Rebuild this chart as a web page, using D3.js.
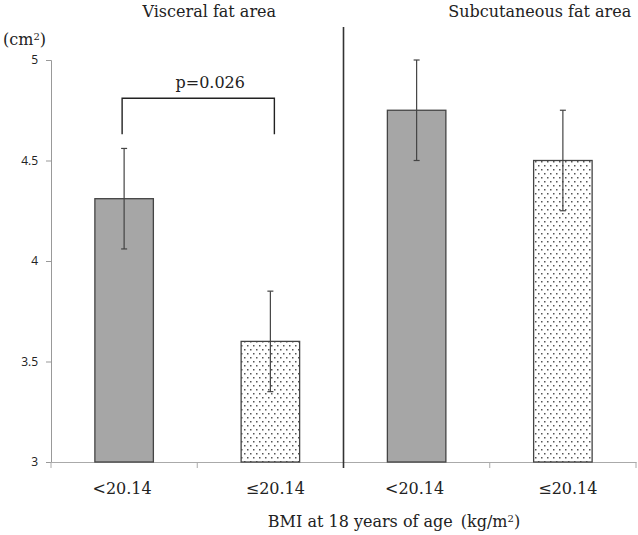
<!DOCTYPE html>
<html>
<head>
  <meta charset="utf-8">
  <title>BMI at 18 years of age</title>
  <script src="https://d3js.org/d3.v7.min.js"></script>
  <style>
    body { margin: 0; background: #fff; }
    text { font-family: "DejaVu Serif", "Liberation Serif", serif; fill: #222; }
    .ytick text { font-family: "Open Sans", "DejaVu Sans", sans-serif; font-size: 12px; }
  </style>
</head>
<body>
<svg width="638" height="535"></svg>
<script>
  // data
  var panels = ["Visceral fat area", "Subcutaneous fat area"];
  var groups = ["<20.14", "\u226420.14", "<20.14", "\u226420.14"];
  var means = [4.31, 3.60, 4.75, 4.50];
  var errors = [0.25, 0.25, 0.25, 0.25];
  var yTicks = [3, 3.5, 4, 4.5, 5];
  var pText = "p=0.026";

  var svg = d3.select("svg");
  var mLeft = 51, mRight = 636, mTop = 60, mBottom = 462;

  var x = d3.scaleBand()
      .domain(d3.range(groups.length))
      .range([mLeft, mRight])
      .paddingInner(0.6)
      .paddingOuter(0.3);
  var xb = d3.scaleBand().domain(d3.range(groups.length)).range([mLeft, mRight]);

  var y = d3.scaleLinear().domain([3, 5]).range([mBottom, mTop]);

  // dotted pattern
  var defs = svg.append("defs");
  var pat = defs.append("pattern")
      .attr("id", "dots")
      .attr("patternUnits", "userSpaceOnUse")
      .attr("width", 6).attr("height", 8);
  pat.append("rect").attr("width", 6).attr("height", 8).attr("fill", "#fff");
  pat.append("rect").attr("x", 1).attr("y", 1).attr("width", 1.5).attr("height", 1.5).attr("fill", "#555");
  pat.append("rect").attr("x", 4).attr("y", 5).attr("width", 1.5).attr("height", 1.5).attr("fill", "#555");

  // y axis
  var yAxis = svg.append("g")
      .attr("class", "ytick")
      .attr("transform", "translate(" + mLeft + ",0)")
      .call(d3.axisLeft(y).tickValues(yTicks).tickFormat(d3.format("")).tickSize(5).tickPadding(8));
  yAxis.select(".domain").attr("stroke", "#999");
  yAxis.selectAll(".tick line").attr("stroke", "#999");
  yAxis.selectAll(".tick text").attr("fill", "#222");

  // x axis
  var xAxis = svg.append("g")
      .attr("transform", "translate(0," + mBottom + ")")
      .call(d3.axisBottom(xb).tickValues([]).tickSizeOuter(0));
  xAxis.select(".domain").attr("stroke", "#aaa");
  xAxis.selectAll(".bd")
      .data(d3.range(groups.length + 1))
      .enter().append("line")
      .attr("x1", function(d) { return mLeft + d * xb.bandwidth(); })
      .attr("x2", function(d) { return mLeft + d * xb.bandwidth(); })
      .attr("y1", 0).attr("y2", 6)
      .attr("stroke", "#aaa");

  // bars
  svg.append("g").selectAll("rect")
      .data(means)
      .enter().append("rect")
      .attr("x", function(d, i) { return x(i); })
      .attr("width", x.bandwidth())
      .attr("y", function(d) { return y(d); })
      .attr("height", function(d) { return mBottom - y(d); })
      .attr("fill", function(d, i) { return i % 2 ? "url(#dots)" : "#a6a6a6"; })
      .attr("stroke", "#444")
      .attr("stroke-width", 1.3);

  // error bars
  var eb = svg.append("g").attr("stroke", "#444").attr("stroke-width", 1.2);
  means.forEach(function(m, i) {
    var cx = x(i) + x.bandwidth() / 2;
    eb.append("line").attr("x1", cx).attr("x2", cx)
        .attr("y1", y(m - errors[i])).attr("y2", y(m + errors[i]));
    [m - errors[i], m + errors[i]].forEach(function(v) {
      eb.append("line").attr("x1", cx - 3).attr("x2", cx + 3)
          .attr("y1", y(v)).attr("y2", y(v));
    });
  });

  // divider between panels
  var midX = mLeft + 2 * xb.bandwidth();
  svg.append("line")
      .attr("x1", midX).attr("x2", midX)
      .attr("y1", 27).attr("y2", mBottom + 6)
      .attr("stroke", "#333").attr("stroke-width", 1.6);

  // significance bracket
  var c0 = x(0) + x.bandwidth() / 2 - 2, c1 = x(1) + x.bandwidth() / 2 + 4;
  svg.append("path")
      .attr("d", "M" + c0 + "," + y(4.63) + "V" + y(4.81) + "H" + c1 + "V" + y(4.63))
      .attr("fill", "none").attr("stroke", "#222").attr("stroke-width", 1.4);
  svg.append("text")
      .attr("x", (c0 + c1) / 2 + 12).attr("y", 88)
      .attr("text-anchor", "middle").attr("font-size", 16)
      .text(pText);

  // panel titles (set a little right of the panel centres, as in the source)
  svg.selectAll(".ptitle")
      .data(panels)
      .enter().append("text")
      .attr("x", function(d, i) { return mLeft + (2 * i + 1) * xb.bandwidth() + (i ? 50 : 12); })
      .attr("y", 17)
      .attr("text-anchor", "middle").attr("font-size", 16)
      .text(function(d) { return d; });

  // category labels
  svg.selectAll(".cat")
      .data(groups)
      .enter().append("text")
      .attr("x", function(d, i) { return x(i) + x.bandwidth() / 2 + (i % 2 ? 5 : -2); })
      .attr("y", 494)
      .attr("text-anchor", "middle").attr("font-size", 16)
      .text(function(d) { return d; });

  // unit label
  var unit = svg.append("text").attr("x", 3).attr("y", 45).attr("font-size", 16);
  unit.append("tspan").text("(cm");
  unit.append("tspan").attr("dy", -5).attr("font-size", 10).text("2");
  unit.append("tspan").attr("dy", 5).text(")");

  // x title
  var xt = svg.append("text").attr("x", 394).attr("y", 527)
      .attr("text-anchor", "middle").attr("font-size", 16);
  xt.append("tspan").text("BMI at 18 years of age\u2002(kg/m");
  xt.append("tspan").attr("dy", -5).attr("font-size", 10).text("2");
  xt.append("tspan").attr("dy", 5).text(")");
</script>
</body>
</html>
